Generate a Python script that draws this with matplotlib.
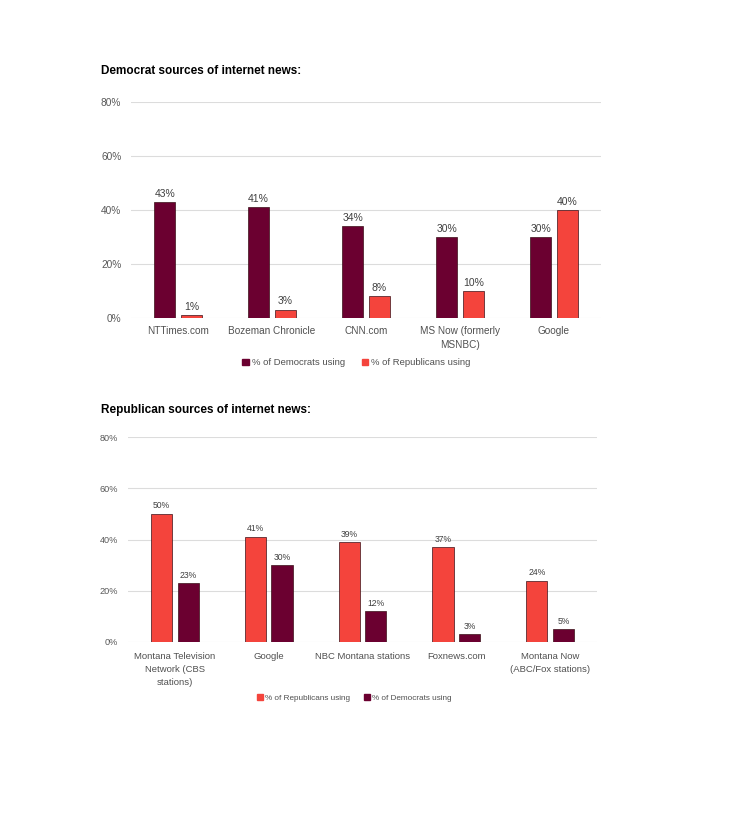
import numpy as np
import matplotlib
matplotlib.use("Agg")
import matplotlib.pyplot as plt
from matplotlib.patches import Patch

plt.rcParams['font.family'] = ['Liberation Sans Narrow', 'Liberation Sans', 'DejaVu Sans']

DEM = '#6b0030'
REP = '#f4443c'

# top chart data
top_cats = ['NTTimes.com', 'Bozeman Chronicle', 'CNN.com', 'MS Now (formerly\nMSNBC)', 'Google']
top_dem = [43, 41, 34, 30, 30]
top_rep = [1, 3, 8, 10, 40]

# bottom chart data
bot_cats = ['Montana Television\nNetwork (CBS\nstations)', 'Google', 'NBC Montana stations',
            'Foxnews.com', 'Montana Now\n(ABC/Fox stations)']
bot_rep = [50, 41, 39, 37, 24]
bot_dem = [23, 30, 12, 3, 5]

ticks = [0, 20, 40, 60, 80]


def draw(ax, cats, first, second, c1, c2, fs_tick, fs_lab, fs_cat, pad, ls):
    x = np.arange(len(cats))
    w = 0.227
    off = 0.142
    b1 = ax.bar(x - off, first, w, color=c1, edgecolor='#3a1018', linewidth=0.5, zorder=3)
    b2 = ax.bar(x + off, second, w, color=c2, edgecolor='#3a1018', linewidth=0.5, zorder=3)
    for bars in (b1, b2):
        for r in bars:
            ax.annotate(f'{int(r.get_height())}%', (r.get_x() + r.get_width() / 2, r.get_height()),
                        xytext=(0, 2.5), textcoords='offset points', ha='center', va='bottom',
                        fontsize=fs_lab, color='#404040')
    ax.set_xlim(-0.5, len(cats) - 0.5)
    ax.set_ylim(0, 80)
    ax.set_yticks(ticks)
    ax.set_yticklabels([f'{t}%' for t in ticks])
    ax.set_xticks(x)
    ax.set_xticklabels(cats, fontsize=fs_cat, color='#505050', linespacing=ls)
    ax.tick_params(axis='y', labelsize=fs_tick, labelcolor='#595959', length=0, pad=7)
    ax.tick_params(axis='x', length=0, pad=pad)
    ax.grid(axis='y', color='#dcdcdc', linewidth=0.8, zorder=0)
    for s in ax.spines.values():
        s.set_visible(False)


fig = plt.figure(figsize=(7.29, 8.17), dpi=100)

ax1 = fig.add_axes([0.1797, 0.6108, 0.6447, 0.264])
draw(ax1, top_cats, top_dem, top_rep, DEM, REP, 7.3, 7.5, 7.2, 6, 1.4)
fig.text(0.1385, 0.9125, 'Democrat sources of internet news:', fontsize=8.5, fontweight='bold',
         family=['Liberation Sans', 'DejaVu Sans'], va='center')
fig.legend(handles=[Patch(color=DEM, label='% of Democrats using'),
                    Patch(color=REP, label='% of Republicans using')],
           loc='center', bbox_to_anchor=(0.489, 0.5557), ncol=2, frameon=False,
           fontsize=6.8, handlelength=0.7, handleheight=0.7, handletextpad=0.3,
           columnspacing=1.8, labelcolor='#505050')

ax2 = fig.add_axes([0.1756, 0.2142, 0.6433, 0.2509])
draw(ax2, bot_cats, bot_rep, bot_dem, REP, DEM, 6.6, 6.2, 6.8, 7, 1.6)
fig.text(0.1385, 0.4982, 'Republican sources of internet news:', fontsize=8.5, fontweight='bold',
         family=['Liberation Sans', 'DejaVu Sans'], va='center')
fig.legend(handles=[Patch(color=REP, label='% of Republicans using'),
                    Patch(color=DEM, label='% of Democrats using')],
           loc='center', bbox_to_anchor=(0.486, 0.1457), ncol=2, frameon=False,
           fontsize=5.9, handlelength=0.7, handleheight=0.7, handletextpad=0.3,
           columnspacing=1.7, labelcolor='#505050')

fig.savefig('out.png', dpi=100, facecolor='white')
